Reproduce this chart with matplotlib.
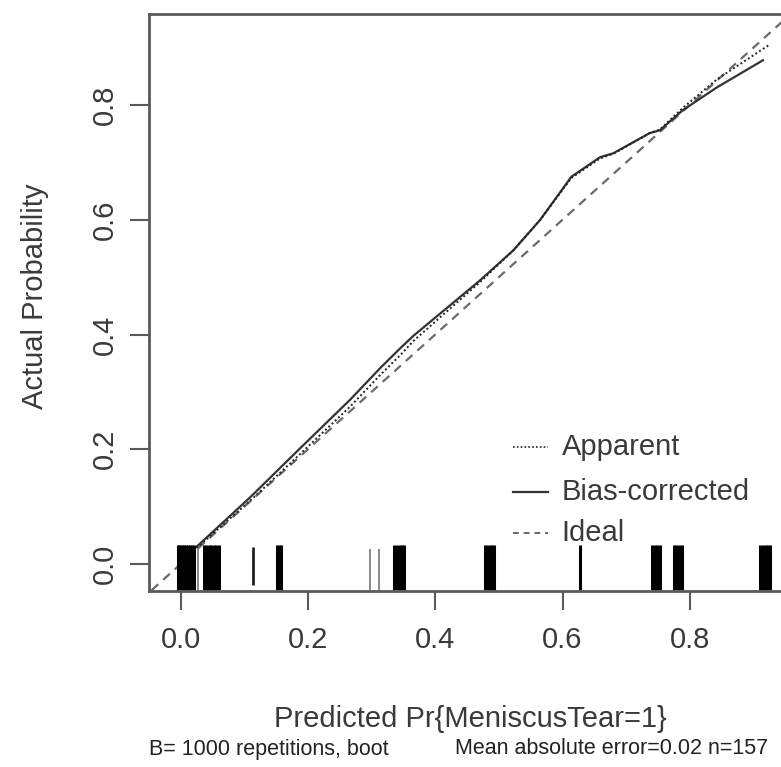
import matplotlib
matplotlib.use("Agg")
import matplotlib.pyplot as plt

# ---- data ----
bias_x = [0.025, 0.109, 0.188, 0.266, 0.314, 0.345, 0.366, 0.418, 0.470, 0.523, 0.565, 0.614, 0.659, 0.680, 0.737, 0.753, 0.789, 0.843, 0.915]
bias_y = [0.030, 0.116, 0.202, 0.286, 0.342, 0.376, 0.398, 0.446, 0.494, 0.547, 0.600, 0.675, 0.709, 0.716, 0.751, 0.756, 0.791, 0.831, 0.878]

app_x = [0.025, 0.109, 0.188, 0.266, 0.314, 0.345, 0.366, 0.418, 0.470, 0.523, 0.565, 0.614, 0.659, 0.680, 0.737, 0.753, 0.789, 0.843, 0.925]
app_y = [0.028, 0.110, 0.192, 0.274, 0.330, 0.364, 0.389, 0.440, 0.491, 0.547, 0.600, 0.673, 0.707, 0.715, 0.751, 0.757, 0.795, 0.845, 0.905]

ideal_x = [-0.1, 1.1]
ideal_y = [-0.1, 1.1]

rug_black = [-0.004, -0.002, 0.000, 0.003, 0.006, 0.009, 0.012, 0.015, 0.018, 0.021,
             0.036, 0.040, 0.044, 0.048, 0.052, 0.056, 0.060,
             0.151, 0.154, 0.157,
             0.336, 0.340, 0.344, 0.348, 0.351,
             0.478, 0.482, 0.486, 0.490, 0.493,
             0.627,
             0.741, 0.745, 0.749, 0.753,
             0.775, 0.779, 0.783, 0.787,
             0.911, 0.915, 0.919, 0.923, 0.926]
rug_short = [0.114]
rug_gray = [0.028, 0.298, 0.311]

xticks = [0.0, 0.2, 0.4, 0.6, 0.8]
yticks = [0.0, 0.2, 0.4, 0.6, 0.8]
xlabel = "Predicted Pr{MeniscusTear=1}"
ylabel = "Actual Probability"
legend_labels = ["Apparent", "Bias-corrected", "Ideal"]
sub_left = "B= 1000 repetitions, boot"
sub_right = "Mean absolute error=0.02 n=157"

# ---- figure ----
W, H = 781, 767
plt.rcParams['font.family'] = ['Liberation Sans', 'DejaVu Sans']
fig = plt.figure(figsize=(W / 100, H / 100), dpi=100)

ax_l, ax_r, ax_t, ax_b = 149, 791, 14, 591
ax = fig.add_axes([ax_l / W, (H - ax_b) / H, (ax_r - ax_l) / W, (ax_b - ax_t) / H])
ax.set_xlim(-0.0497, 0.959)
ax.set_ylim(-0.047, 0.9586)

txtc = '#3a3a3a'
axc = '#5a5a5a'

ax.plot(ideal_x, ideal_y, color='#6a6a6a', lw=1.6, ls=(0, (4, 3)))
ax.plot(bias_x, bias_y, color='#333333', lw=1.6, ls='-')
ax.plot(app_x, app_y, color='#222222', lw=1.4, ls=(0, (1, 1.3)))

ax.vlines(rug_black, -0.045, 0.033, colors='black', lw=2.2)
ax.vlines(rug_short, -0.037, 0.030, colors='#222222', lw=2.0)
ax.vlines(rug_gray, -0.045, 0.026, colors='#808080', lw=1.3)

for s in ax.spines.values():
    s.set_color(axc)
    s.set_linewidth(2.0)

ax.set_xticks(xticks)
ax.set_yticks(yticks)
ax.set_xticklabels([f"{v:.1f}" for v in xticks])
ax.set_yticklabels([f"{v:.1f}" for v in yticks], rotation=90, va='center')
ax.tick_params(axis='both', direction='out', length=13.5, width=1.5, color=axc,
               labelsize=21, labelcolor=txtc)
ax.tick_params(axis='x', pad=11.5)
ax.tick_params(axis='y', pad=8)

fig.text(470 / W, 1 - 719 / H, xlabel, ha='center', va='center', fontsize=21, color=txtc)
fig.text(35 / W, 1 - 296 / H, ylabel, ha='center', va='center', rotation=90, fontsize=21, color=txtc)
fig.text(149 / W, 1 - 749 / H, sub_left, ha='left', va='center', fontsize=15.5, color='#222222')
fig.text(455 / W, 1 - 749 / H, sub_right, ha='left', va='center', fontsize=15.5, color='#222222')

# legend (manual, like R's legend without box)
lx0, lx1, ltx = 0.522, 0.577, 0.599
leg_y = [0.204, 0.1255, 0.054]
styles = [dict(color='#222222', lw=1.2, ls=(0, (1, 1.3))),
          dict(color='#333333', lw=1.6, ls='-'),
          dict(color='#6a6a6a', lw=1.4, ls=(0, (3, 2.5)))]
for lab, yy, st in zip(legend_labels, leg_y, styles):
    ax.plot([lx0, lx1], [yy, yy], **st)
    ax.text(ltx, yy, lab, ha='left', va='center', fontsize=21, color=txtc)

fig.savefig("out.png", dpi=100)
